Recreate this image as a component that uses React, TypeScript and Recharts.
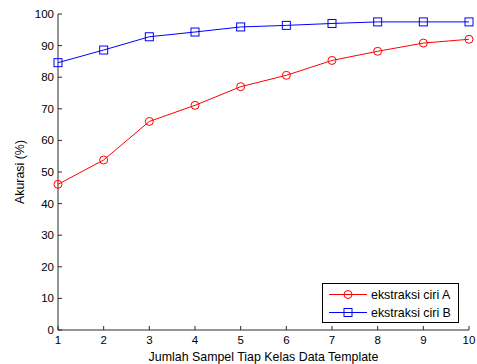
import React from 'react';
import { LineChart, Line, XAxis, YAxis } from 'recharts';

const samples = [1, 2, 3, 4, 5, 6, 7, 8, 9, 10];
const seriesA = [46.1, 53.8, 66.0, 71.1, 77.0, 80.6, 85.3, 88.2, 90.8, 92.0];
const seriesB = [84.6, 88.6, 92.8, 94.3, 95.9, 96.4, 97.0, 97.5, 97.5, 97.5];
const xTicks = [1, 2, 3, 4, 5, 6, 7, 8, 9, 10];
const yTicks = [0, 10, 20, 30, 40, 50, 60, 70, 80, 90, 100];
const nameA = 'ekstraksi ciri A';
const nameB = 'ekstraksi ciri B';

const data = samples.map((s, i) => ({ x: s, a: seriesA[i], b: seriesB[i] }));

const FONT = 'Liberation Sans, Arial, sans-serif';
const AXIS = '#2b2b2b';
const LBL = 12.4;

const CircleDot = (props: any) => {
  const { cx, cy, index } = props;
  return <circle key={`ca-${index}`} cx={cx} cy={cy} r={4} stroke="#ff0000" strokeWidth={1} fill="none" />;
};
const SquareDot = (props: any) => {
  const { cx, cy, index } = props;
  return <rect key={`sb-${index}`} x={cx - 4} y={cy - 4} width={8} height={8} stroke="#0000ff" strokeWidth={1} fill="none" />;
};

const LegendBox = () => (
  <svg width={138} height={41} style={{ display: 'block' }}>
    <rect x={0.5} y={0.5} width={136} height={39} fill="#fff" stroke="#000" strokeWidth={1} />
    <line x1={7} x2={45} y1={11.5} y2={11.5} stroke="#ff0000" strokeWidth={1} />
    <circle cx={26} cy={11.5} r={4} stroke="#ff0000" fill="none" />
    <text x={49} y={16} fontFamily={FONT} fontSize={LBL} fill="#000">{nameA}</text>
    <line x1={7} x2={45} y1={29.5} y2={29.5} stroke="#0000ff" strokeWidth={1} />
    <rect x={22} y={25.5} width={8} height={8} stroke="#0000ff" fill="none" />
    <text x={49} y={34} fontFamily={FONT} fontSize={LBL} fill="#000">{nameB}</text>
  </svg>
);

export default function App() {
  return (
    <div style={{ position: 'absolute', left: 0, top: 0, width: 477, height: 364, background: '#fff' }}>
      <LineChart width={477} height={364} data={data} margin={{ top: 14, right: 8, bottom: 0, left: 0 }}>
        <XAxis
          dataKey="x"
          type="number"
          domain={[1, 10]}
          ticks={xTicks}
          interval={0}
          height={34}
          tickSize={-4}
          tickMargin={10}
          stroke={AXIS}
          tick={{ fill: '#000', fontSize: 11.5, fontFamily: FONT }}
          label={{ value: 'Jumlah Sampel Tiap Kelas Data Template', position: 'insideBottom', offset: 3.5, fill: '#000', fontSize: LBL, fontFamily: FONT }}
        />
        <XAxis
          xAxisId="top"
          orientation="top"
          type="number"
          domain={[1, 10]}
          ticks={xTicks}
          interval={0}
          height={0}
          tickSize={-4}
          tick={false}
          stroke={AXIS}
        />
        <YAxis
          type="number"
          domain={[0, 100]}
          ticks={yTicks}
          interval={0}
          width={58}
          tickSize={-4}
          tickMargin={8}
          stroke={AXIS}
          tick={{ fill: '#000', fontSize: 11.5, fontFamily: FONT }}
          label={{ value: 'Akurasi (%)', angle: -90, position: 'insideLeft', offset: 20, fill: '#000', fontSize: LBL, fontFamily: FONT, style: { textAnchor: 'middle' } }}
        />
        <YAxis
          yAxisId="right"
          orientation="right"
          type="number"
          domain={[0, 100]}
          ticks={yTicks}
          interval={0}
          width={0}
          tickSize={-4}
          tick={false}
          stroke={AXIS}
        />
        <Line
          dataKey="a"
          name={nameA}
          stroke="#ff0000"
          strokeWidth={1}
          dot={CircleDot}
          activeDot={false}
          isAnimationActive={false}
        />
        <Line
          dataKey="b"
          name={nameB}
          stroke="#0000ff"
          strokeWidth={1}
          dot={SquareDot}
          activeDot={false}
          isAnimationActive={false}
        />
      </LineChart>
      <div style={{ position: 'absolute', left: 322, top: 283, width: 138, height: 41 }}>
        <LegendBox />
      </div>
    </div>
  );
}
